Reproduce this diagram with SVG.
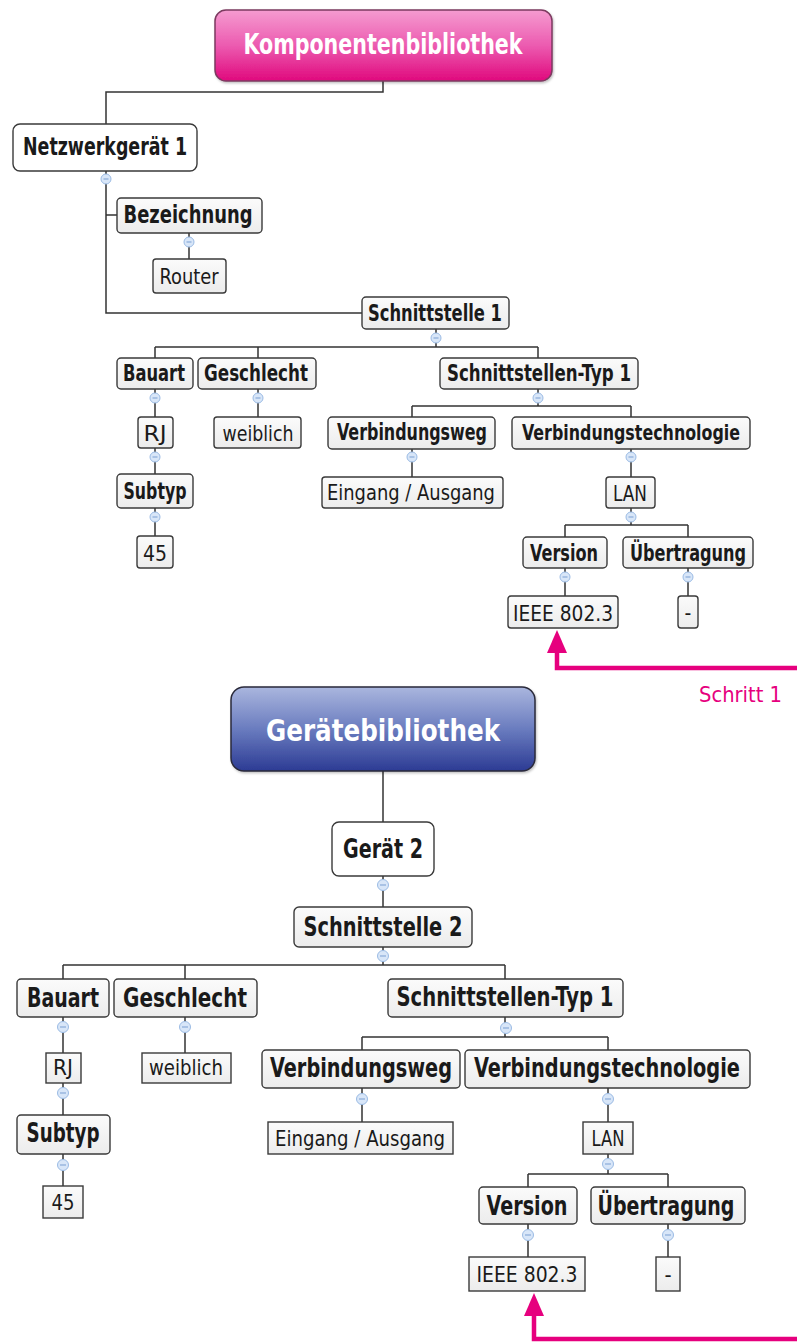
<svg xmlns="http://www.w3.org/2000/svg" width="797" height="1342" viewBox="0 0 797 1342">
  <defs>
    <linearGradient id="gPink" x1="0" y1="0" x2="0" y2="1">
      <stop offset="0" stop-color="#f59bd0"/>
      <stop offset="0.5" stop-color="#ec5bb0"/>
      <stop offset="1" stop-color="#e0097d"/>
    </linearGradient>
    <linearGradient id="gBlue" x1="0" y1="0" x2="0" y2="1">
      <stop offset="0" stop-color="#aab6de"/>
      <stop offset="0.5" stop-color="#6a7cbf"/>
      <stop offset="1" stop-color="#2c3b94"/>
    </linearGradient>
    <linearGradient id="gBox" x1="0" y1="0" x2="0" y2="1">
      <stop offset="0" stop-color="#fbfbfb"/>
      <stop offset="1" stop-color="#ececec"/>
    </linearGradient>
    <filter id="soft" x="-10%" y="-10%" width="130%" height="140%">
      <feDropShadow dx="1" dy="1.5" stdDeviation="1.2" flood-color="#000" flood-opacity="0.25"/>
    </filter>
  </defs>
  <style>
    .box { fill: url(#gBox); stroke: #3a3a3a; stroke-width: 1.4; }
    .root { fill: #ffffff; stroke: #3a3a3a; stroke-width: 1.4; }
    .lbl { font-family: "DejaVu Sans Condensed", "DejaVu Sans", "Liberation Sans", sans-serif; font-stretch: condensed; font-weight: bold; fill: #1a1a1a; text-anchor: middle; }
    .val { font-family: "DejaVu Sans Condensed", "DejaVu Sans", "Liberation Sans", sans-serif; font-stretch: condensed; font-weight: normal; fill: #1a1a1a; text-anchor: middle; }
    .title { font-family: "DejaVu Sans Condensed", "DejaVu Sans", "Liberation Sans", sans-serif; font-stretch: condensed; font-weight: bold; fill: #ffffff; text-anchor: middle; }
    .link { fill: none; stroke: #333333; stroke-width: 1.5; }
    .knob circle { fill: #d8e6f8; stroke: #9bbbe4; stroke-width: 1; }
    .knob path { stroke: #7a9fd2; stroke-width: 1; }
    .step { fill: none; stroke: #e6007e; stroke-width: 4.5; }
    .stepHead { fill: #e6007e; }
    .stepTxt { font-family: "DejaVu Sans Condensed", "DejaVu Sans", "Liberation Sans", sans-serif; font-stretch: condensed; fill: #e6007e; font-size: 22px; }
  </style>

  <!-- connectors -->
  <g id="connectors" class="link">
    <!-- component library tree -->
    <path d="M383,81 V92 H106 V124"/>
    <path d="M106,171 V313 H362 M106,215 H117"/>
    <path d="M189,233 V259"/>
    <path d="M436,329 V347 M155,347 H538 M155,347 V358 M258,347 V358 M538,347 V358"/>
    <path d="M155,389 V417 M155,448 V474 M155,508 V536"/>
    <path d="M258,389 V417"/>
    <path d="M538,389 V406 M412,406 H631 M412,406 V417 M631,406 V417"/>
    <path d="M412,449 V477 M631,449 V477"/>
    <path d="M631,508 V525 M565,525 H688 M565,525 V537 M688,525 V537"/>
    <path d="M565,568 V596 M688,568 V596"/>
    <!-- device library tree -->
    <path d="M383,771 V822"/>
    <path d="M383,876 V907"/>
    <path d="M383,947 V965 M63,965 H505 M63,965 V979 M185,965 V979 M505,965 V979"/>
    <path d="M63,1017 V1053 M63,1083 V1115 M63,1154 V1186"/>
    <path d="M185,1017 V1053"/>
    <path d="M505,1017 V1037 M362,1037 H608 M362,1037 V1050 M608,1037 V1050"/>
    <path d="M362,1088 V1122 M608,1088 V1122"/>
    <path d="M608,1154 V1174 M528,1174 H668 M528,1174 V1187 M668,1174 V1187"/>
    <path d="M528,1224 V1257 M668,1224 V1257"/>
  </g>

  <!-- collapse knobs -->
  <g id="knobs" class="knob">
    <g transform="translate(106,179)"><circle r="5"/><path d="M-2.5,0 H2.5"/></g>
    <g transform="translate(189,242)"><circle r="5"/><path d="M-2.5,0 H2.5"/></g>
    <g transform="translate(436,338)"><circle r="5"/><path d="M-2.5,0 H2.5"/></g>
    <g transform="translate(155,398)"><circle r="5"/><path d="M-2.5,0 H2.5"/></g>
    <g transform="translate(258,398)"><circle r="5"/><path d="M-2.5,0 H2.5"/></g>
    <g transform="translate(538,398)"><circle r="5"/><path d="M-2.5,0 H2.5"/></g>
    <g transform="translate(155,457)"><circle r="5"/><path d="M-2.5,0 H2.5"/></g>
    <g transform="translate(155,517)"><circle r="5"/><path d="M-2.5,0 H2.5"/></g>
    <g transform="translate(412,457)"><circle r="5"/><path d="M-2.5,0 H2.5"/></g>
    <g transform="translate(631,457)"><circle r="5"/><path d="M-2.5,0 H2.5"/></g>
    <g transform="translate(631,517)"><circle r="5"/><path d="M-2.5,0 H2.5"/></g>
    <g transform="translate(565,577)"><circle r="5"/><path d="M-2.5,0 H2.5"/></g>
    <g transform="translate(688,577)"><circle r="5"/><path d="M-2.5,0 H2.5"/></g>

    <g transform="translate(383,885)"><circle r="5.5"/><path d="M-3,0 H3"/></g>
    <g transform="translate(383,956)"><circle r="5.5"/><path d="M-3,0 H3"/></g>
    <g transform="translate(63,1027)"><circle r="5.5"/><path d="M-3,0 H3"/></g>
    <g transform="translate(185,1027)"><circle r="5.5"/><path d="M-3,0 H3"/></g>
    <g transform="translate(506,1028)"><circle r="5.5"/><path d="M-3,0 H3"/></g>
    <g transform="translate(63,1093)"><circle r="5.5"/><path d="M-3,0 H3"/></g>
    <g transform="translate(63,1165)"><circle r="5.5"/><path d="M-3,0 H3"/></g>
    <g transform="translate(362,1099)"><circle r="5.5"/><path d="M-3,0 H3"/></g>
    <g transform="translate(608,1099)"><circle r="5.5"/><path d="M-3,0 H3"/></g>
    <g transform="translate(608,1164)"><circle r="5.5"/><path d="M-3,0 H3"/></g>
    <g transform="translate(528,1235)"><circle r="5.5"/><path d="M-3,0 H3"/></g>
    <g transform="translate(668,1235)"><circle r="5.5"/><path d="M-3,0 H3"/></g>
  </g>

  <!-- ===== component library ===== -->
  <g id="komponentenbibliothek">
    <rect x="215" y="10" width="337" height="71" rx="11" fill="url(#gPink)" stroke="#7c3a60" stroke-width="1.5" filter="url(#soft)"/>
    <text class="title" x="383" y="54" font-size="28" textLength="279" lengthAdjust="spacingAndGlyphs">Komponentenbibliothek</text>
  </g>
  <g id="netzwerkgeraet1">
    <rect class="root" x="13" y="124" width="184" height="47" rx="7"/>
    <text class="lbl" x="105" y="155" font-size="25" textLength="164" lengthAdjust="spacingAndGlyphs">Netzwerkgerät 1</text>
  </g>
  <g id="bezeichnung">
    <rect class="box" x="117" y="198" width="145" height="35" rx="4"/>
    <text class="lbl" x="188" y="223" font-size="24" textLength="129" lengthAdjust="spacingAndGlyphs">Bezeichnung</text>
  </g>
  <g id="router">
    <rect class="box" x="153" y="259" width="73" height="34" rx="3"/>
    <text class="val" x="189" y="284" font-size="21" textLength="59" lengthAdjust="spacingAndGlyphs">Router</text>
  </g>
  <g id="schnittstelle1">
    <rect class="box" x="362" y="297" width="147" height="32" rx="4"/>
    <text class="lbl" x="435" y="321" font-size="23" textLength="134" lengthAdjust="spacingAndGlyphs">Schnittstelle 1</text>
  </g>
  <g id="bauart1">
    <rect class="box" x="117" y="358" width="76" height="31" rx="4"/>
    <text class="lbl" x="154" y="381" font-size="23" textLength="62" lengthAdjust="spacingAndGlyphs">Bauart</text>
  </g>
  <g id="geschlecht1">
    <rect class="box" x="198" y="358" width="118" height="31" rx="4"/>
    <text class="lbl" x="256" y="381" font-size="23" textLength="104" lengthAdjust="spacingAndGlyphs">Geschlecht</text>
  </g>
  <g id="schnittstellentyp1a">
    <rect class="box" x="440" y="358" width="198" height="31" rx="4"/>
    <text class="lbl" x="539" y="381" font-size="23" textLength="184" lengthAdjust="spacingAndGlyphs">Schnittstellen-Typ 1</text>
  </g>
  <g id="rj1">
    <rect class="box" x="138" y="417" width="35" height="31" rx="3"/>
    <text class="val" x="155" y="441" font-size="21" textLength="23" lengthAdjust="spacingAndGlyphs">RJ</text>
  </g>
  <g id="weiblich1">
    <rect class="box" x="214" y="417" width="87" height="31" rx="3"/>
    <text class="val" x="258" y="441" font-size="21" textLength="71" lengthAdjust="spacingAndGlyphs">weiblich</text>
  </g>
  <g id="verbindungsweg1">
    <rect class="box" x="328" y="417" width="167" height="32" rx="4"/>
    <text class="lbl" x="412" y="440" font-size="23" textLength="150" lengthAdjust="spacingAndGlyphs">Verbindungsweg</text>
  </g>
  <g id="verbindungstechnologie1">
    <rect class="box" x="512" y="417" width="238" height="32" rx="4"/>
    <text class="lbl" x="631" y="440" font-size="21" textLength="218" lengthAdjust="spacingAndGlyphs">Verbindungstechnologie</text>
  </g>
  <g id="subtyp1">
    <rect class="box" x="117" y="474" width="76" height="34" rx="4"/>
    <text class="lbl" x="155" y="499" font-size="23" textLength="63" lengthAdjust="spacingAndGlyphs">Subtyp</text>
  </g>
  <g id="eingangausgang1">
    <rect class="box" x="322" y="477" width="181" height="31" rx="3"/>
    <text class="val" x="411" y="500" font-size="21" textLength="168" lengthAdjust="spacingAndGlyphs">Eingang / Ausgang</text>
  </g>
  <g id="lan1">
    <rect class="box" x="606" y="477" width="49" height="31" rx="3"/>
    <text class="val" x="630" y="501" font-size="21" textLength="34" lengthAdjust="spacingAndGlyphs">LAN</text>
  </g>
  <g id="n45a">
    <rect class="box" x="137" y="536" width="36" height="32" rx="3"/>
    <text class="val" x="155" y="561" font-size="21" textLength="24" lengthAdjust="spacingAndGlyphs">45</text>
  </g>
  <g id="version1">
    <rect class="box" x="523" y="537" width="84" height="31" rx="4"/>
    <text class="lbl" x="564" y="561" font-size="23" textLength="68" lengthAdjust="spacingAndGlyphs">Version</text>
  </g>
  <g id="uebertragung1">
    <rect class="box" x="623" y="537" width="130" height="31" rx="4"/>
    <text class="lbl" x="688" y="561" font-size="23" textLength="116" lengthAdjust="spacingAndGlyphs">Übertragung</text>
  </g>
  <g id="ieee1">
    <rect class="box" x="508" y="596" width="110" height="32" rx="3"/>
    <text class="val" x="563" y="621" font-size="21" textLength="100" lengthAdjust="spacingAndGlyphs">IEEE 802.3</text>
  </g>
  <g id="strich1">
    <rect class="box" x="678" y="596" width="20" height="32" rx="3"/>
    <text class="val" x="688" y="620" font-size="21">-</text>
  </g>

  <!-- step 1 marker -->
  <g id="schritt1">
    <path class="step" d="M797,668 H557 V650"/>
    <polygon class="stepHead" points="557,630 547,653 567,653"/>
    <text class="stepTxt" x="699" y="702" textLength="83" lengthAdjust="spacingAndGlyphs">Schritt 1</text>
  </g>

  <!-- ===== device library ===== -->
  <g id="geraetebibliothek">
    <rect x="231" y="687" width="304" height="84" rx="13" fill="url(#gBlue)" stroke="#2a2a3a" stroke-width="1.5" filter="url(#soft)"/>
    <text class="title" x="383" y="741" font-size="31" textLength="234" lengthAdjust="spacingAndGlyphs">Gerätebibliothek</text>
  </g>
  <g id="geraet2">
    <rect class="root" x="332" y="822" width="102" height="54" rx="7"/>
    <text class="lbl" x="383" y="858" font-size="27" textLength="80" lengthAdjust="spacingAndGlyphs">Gerät 2</text>
  </g>
  <g id="schnittstelle2">
    <rect class="box" x="294" y="907" width="178" height="40" rx="5"/>
    <text class="lbl" x="383" y="936" font-size="26" textLength="159" lengthAdjust="spacingAndGlyphs">Schnittstelle 2</text>
  </g>
  <g id="bauart2">
    <rect class="box" x="17" y="979" width="92" height="38" rx="4"/>
    <text class="lbl" x="63" y="1007" font-size="26" textLength="72" lengthAdjust="spacingAndGlyphs">Bauart</text>
  </g>
  <g id="geschlecht2">
    <rect class="box" x="114" y="979" width="143" height="38" rx="4"/>
    <text class="lbl" x="185" y="1007" font-size="26" textLength="124" lengthAdjust="spacingAndGlyphs">Geschlecht</text>
  </g>
  <g id="schnittstellentyp1b">
    <rect class="box" x="388" y="979" width="235" height="38" rx="4"/>
    <text class="lbl" x="505" y="1006" font-size="26" textLength="217" lengthAdjust="spacingAndGlyphs">Schnittstellen-Typ 1</text>
  </g>
  <g id="rj2">
    <rect class="box" x="46" y="1053" width="35" height="30"/>
    <text class="val" x="63" y="1075" font-size="22" textLength="20" lengthAdjust="spacingAndGlyphs">RJ</text>
  </g>
  <g id="weiblich2">
    <rect class="box" x="142" y="1053" width="89" height="30"/>
    <text class="val" x="186" y="1075" font-size="22" textLength="74" lengthAdjust="spacingAndGlyphs">weiblich</text>
  </g>
  <g id="verbindungsweg2">
    <rect class="box" x="262" y="1050" width="198" height="38" rx="4"/>
    <text class="lbl" x="361" y="1077" font-size="26" textLength="182" lengthAdjust="spacingAndGlyphs">Verbindungsweg</text>
  </g>
  <g id="verbindungstechnologie2">
    <rect class="box" x="465" y="1050" width="285" height="38" rx="4"/>
    <text class="lbl" x="607" y="1077" font-size="26" textLength="266" lengthAdjust="spacingAndGlyphs">Verbindungstechnologie</text>
  </g>
  <g id="subtyp2">
    <rect class="box" x="17" y="1115" width="93" height="39" rx="4"/>
    <text class="lbl" x="63" y="1142" font-size="26" textLength="73" lengthAdjust="spacingAndGlyphs">Subtyp</text>
  </g>
  <g id="eingangausgang2">
    <rect class="box" x="268" y="1122" width="185" height="32"/>
    <text class="val" x="360" y="1146" font-size="22" textLength="170" lengthAdjust="spacingAndGlyphs">Eingang / Ausgang</text>
  </g>
  <g id="lan2">
    <rect class="box" x="583" y="1122" width="50" height="32"/>
    <text class="val" x="608" y="1146" font-size="22" textLength="33" lengthAdjust="spacingAndGlyphs">LAN</text>
  </g>
  <g id="n45b">
    <rect class="box" x="43" y="1186" width="40" height="32"/>
    <text class="val" x="63" y="1210" font-size="22" textLength="23" lengthAdjust="spacingAndGlyphs">45</text>
  </g>
  <g id="version2">
    <rect class="box" x="479" y="1187" width="98" height="37" rx="4"/>
    <text class="lbl" x="527" y="1215" font-size="26" textLength="81" lengthAdjust="spacingAndGlyphs">Version</text>
  </g>
  <g id="uebertragung2">
    <rect class="box" x="591" y="1187" width="154" height="37" rx="4"/>
    <text class="lbl" x="666" y="1215" font-size="26" textLength="137" lengthAdjust="spacingAndGlyphs">Übertragung</text>
  </g>
  <g id="ieee2">
    <rect class="box" x="469" y="1257" width="116" height="34"/>
    <text class="val" x="527" y="1282" font-size="22" textLength="101" lengthAdjust="spacingAndGlyphs">IEEE 802.3</text>
  </g>
  <g id="strich2">
    <rect class="box" x="656" y="1257" width="24" height="34"/>
    <text class="val" x="668" y="1282" font-size="22">-</text>
  </g>

  <!-- step marker, lower tree -->
  <g id="schritt2">
    <path class="step" d="M797,1339 H534 V1313"/>
    <polygon class="stepHead" points="534,1293 524,1316 544,1316"/>
  </g>
</svg>
